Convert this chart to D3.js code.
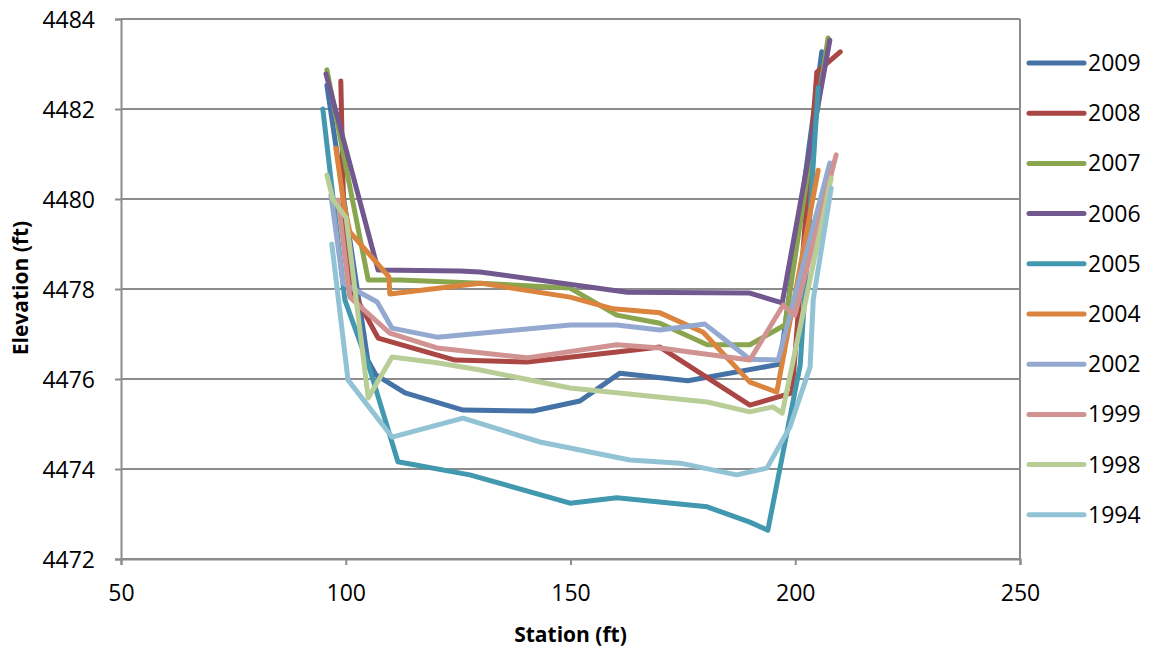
<!DOCTYPE html>
<html><head><meta charset="utf-8">
<script src="https://cdn.jsdelivr.net/npm/d3@7"></script>
<style>body{margin:0;background:#fff}svg{display:block}text{font-family:"Open Sans","Noto Sans",sans-serif;fill:#000}</style>
</head><body>
<svg id="c" width="1155" height="654"></svg>
<script>
const years = ["2009","2008","2007","2006","2005","2004","2002","1999","1998","1994"];
const colors = ["#4572A7","#AA4643","#89A54E","#71588F","#4198AF","#DB843D","#93A9CF","#D19392","#B9CD96","#91C3D5"];
const xTicks = [50,100,150,200,250];
const yTicks = [4472,4474,4476,4478,4480,4482,4484];

const s2009 = [[95.8,4482.53],[104.9,4476.42],[106.7,4476.09],[113.2,4475.69],[126.1,4475.31],[141.7,4475.29],[152.1,4475.51],[161.0,4476.13],[176.1,4475.96],[196.6,4476.33],[205.9,4483.27]];
const s2008 = [[98.9,4482.62],[99.6,4479.42],[101.4,4477.98],[107.2,4476.91],[124.3,4476.42],[140.3,4476.38],[160.3,4476.60],[169.9,4476.71],[189.9,4475.42],[199.3,4475.69],[204.8,4482.82],[210.0,4483.27]];
const s2007 = [[95.8,4482.87],[105.0,4478.20],[112.1,4478.20],[129.9,4478.13],[149.9,4478.02],[160.3,4477.42],[169.9,4477.24],[180.4,4476.76],[189.9,4476.76],[197.7,4477.20],[207.3,4483.58]];
const s2006 = [[95.6,4482.78],[107.2,4478.42],[125.4,4478.40],[129.9,4478.38],[162.6,4477.93],[189.9,4477.91],[197.1,4477.69],[207.7,4483.53]];
const s2005 = [[94.9,4482.0],[99.8,4477.76],[105.4,4476.2],[111.6,4474.16],[127.6,4473.87],[149.9,4473.24],[160.3,4473.36],[180.4,4473.16],[189.9,4472.82],[193.9,4472.64],[201.1,4476.31],[205.1,4482.47]];
const s2004 = [[97.8,4481.13],[99.6,4479.87],[100.9,4479.27],[109.6,4478.27],[109.8,4477.89],[129.9,4478.13],[149.9,4477.82],[159.5,4477.56],[169.9,4477.47],[179.5,4477.04],[189.9,4475.93],[195.9,4475.71],[205.1,4480.64]];
const s2002 = [[96.7,4480.09],[99.4,4478.13],[107.0,4477.71],[110.3,4477.13],[120.3,4476.93],[149.9,4477.2],[160.3,4477.2],[169.9,4477.09],[179.9,4477.22],[189.9,4476.44],[196.2,4476.42],[207.7,4480.8]];
const s1999 = [[98.3,4479.98],[100.9,4477.82],[109.8,4477.02],[120.3,4476.69],[140.3,4476.47],[160.3,4476.76],[169.9,4476.69],[189.9,4476.42],[197.3,4477.64],[199.9,4477.42],[209.1,4480.98]];
const s1998 = [[95.8,4480.53],[97.2,4479.98],[100.1,4479.58],[105.0,4475.58],[110.3,4476.49],[120.3,4476.36],[129.9,4476.2],[149.9,4475.8],[180.4,4475.49],[189.9,4475.27],[195.0,4475.38],[197.1,4475.24],[208.0,4480.47]];
const s1994 = [[96.9,4479.0],[100.5,4475.98],[110.3,4474.71],[126.1,4475.13],[143.2,4474.6],[163.2,4474.2],[174.4,4474.13],[187.0,4473.87],[193.7,4474.02],[198.8,4474.93],[203.3,4476.27],[204.0,4477.76],[208.0,4480.24]];
const seriesData = [s2009,s2008,s2007,s2006,s2005,s2004,s2002,s1999,s1998,s1994];

const L=121,R=1020,T=19,B=559;
const svg=d3.select("#c");
const x=d3.scaleLinear().domain([50,250]).range([L,R]);
const y=d3.scaleLinear().domain([4472,4484]).range([B,T]);

svg.append("g").selectAll("line").data(yTicks).join("line")
  .attr("x1",L).attr("x2",R).attr("y1",d=>y(d)).attr("y2",d=>y(d))
  .attr("stroke","#8c8c8c").attr("stroke-width",2);
svg.append("line").attr("x1",R).attr("x2",R).attr("y1",T).attr("y2",B).attr("stroke","#8c8c8c").attr("stroke-width",2);

const yAxis=svg.append("g").attr("transform",`translate(${L},0)`)
  .call(d3.axisLeft(y).tickValues(yTicks).tickFormat(d3.format("d")).tickSize(6).tickPadding(20));
const xAxis=svg.append("g").attr("transform",`translate(0,${B})`)
  .call(d3.axisBottom(x).tickValues(xTicks).tickFormat(d3.format("d")).tickSize(6).tickPadding(20));
[yAxis,xAxis].forEach(a=>{
  a.select(".domain").attr("stroke","#8c8c8c").attr("stroke-width",2);
  a.selectAll(".tick line").attr("stroke","#8c8c8c").attr("stroke-width",2);
  a.selectAll("text").attr("font-size",23).attr("font-family","'Open Sans',sans-serif").attr("fill","#000");
});
yAxis.selectAll("text").attr("dy","0.35em");

const line=d3.line().x(d=>x(d[0])).y(d=>y(d[1]));
svg.append("g").selectAll("path").data(seriesData).join("path")
  .attr("d",line).attr("fill","none")
  .attr("stroke",(d,i)=>colors[i]).attr("stroke-width",5)
  .attr("stroke-linejoin","round").attr("stroke-linecap","round");

const lg=svg.append("g").selectAll("g").data(years).join("g")
  .attr("transform",(d,i)=>`translate(1029,${63+i*50.2})`);
lg.append("line").attr("x1",0).attr("x2",55).attr("stroke",(d,i)=>colors[i]).attr("stroke-width",5).attr("stroke-linecap","round");
lg.append("text").attr("x",59).attr("dy","0.35em").attr("font-size",23).text(d=>d);

svg.append("text").attr("x",(L+R)/2).attr("y",642).attr("text-anchor","middle")
  .attr("font-weight","bold").attr("font-size",21).text("Station (ft)");
svg.append("text").attr("transform","translate(28,288) rotate(-90)").attr("text-anchor","middle")
  .attr("font-weight","bold").attr("font-size",21).text("Elevation (ft)");
</script>
</body></html>
